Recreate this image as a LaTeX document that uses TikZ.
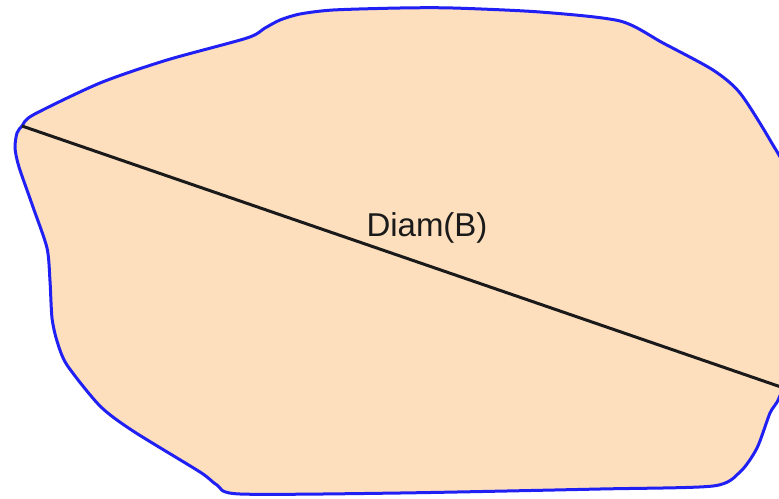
\documentclass[tikz,border=0pt]{standalone}
\usepackage{fontspec}
\setmainfont{Liberation Sans}
\definecolor{peach}{RGB}{253,223,189}
\definecolor{rim}{RGB}{32,32,245}
\definecolor{ink}{RGB}{26,26,26}
\tikzset{
  blob/.style={fill=peach, draw=rim, line width=3pt, line join=round},
  diam/.style={draw=ink, line width=3pt},
  lbl/.style={font=\fontsize{33}{33}\selectfont, text=ink, inner sep=0pt}
}
\begin{document}
\begin{tikzpicture}[x=1pt,y=-1pt]
\useasboundingbox (0,0) rectangle (779,498);
\clip (0,0) rectangle (779,498);
\draw[blob] plot[smooth cycle, tension=0.45] coordinates {
 (22,126) (33,115) (100,83) (167,60) (247,38) (265,28) (280,20) (300,14) (333,10)
 (400,8) (453,8) (540,12) (620,21) (663,43) (713,70) (740,93) (770,140) (790,180)
 (800,260) (796,350) (779,398) (770,413) (757,448) (740,472) (713,486) (600,489)
 (400,493) (240,494) (217,485) (200,472) (133,431) (100,406) (67,365) (57,341) (52,318)
 (50,281) (47,248) (33,207) (19,167) (15,148) (17,133)};
\coordinate (p) at (22,126);
\coordinate (q) at (781,387);
\draw[diam] (p) -- (q);
\node[lbl] (d) at (427,228) {Diam(B)};
\end{tikzpicture}
\end{document}
